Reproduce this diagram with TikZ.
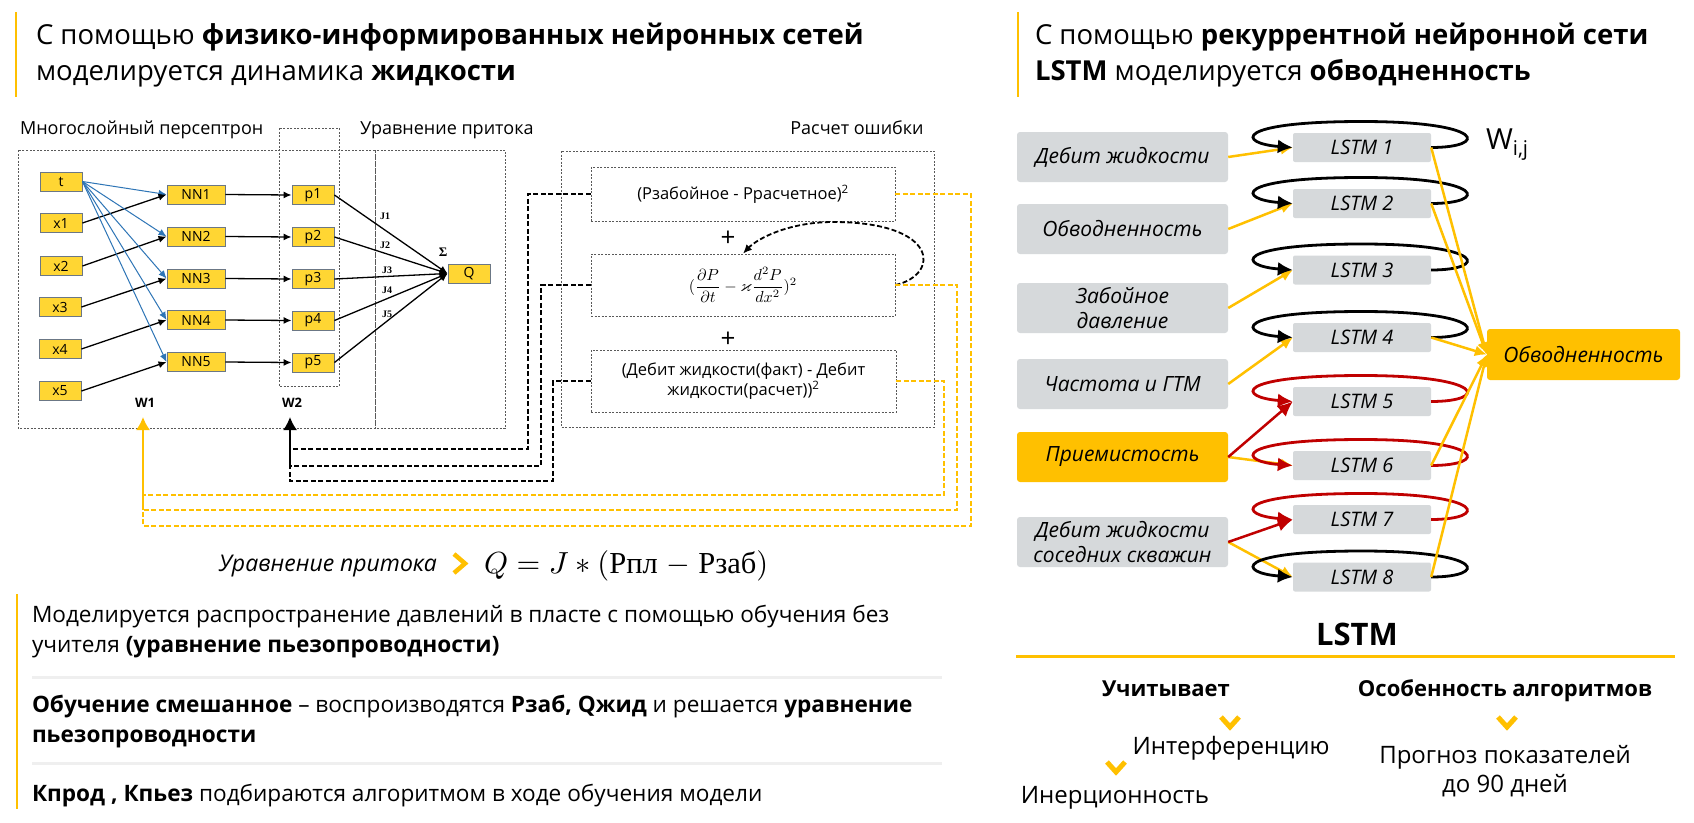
\documentclass[tikz,border=0pt]{standalone}
\usepackage{graphicx}
\usepackage{amsmath,amssymb}
\usepackage[no-math]{fontspec}
\setmainfont{Open Sans}
\newfontfamily\myserif{Liberation Serif}
\usetikzlibrary{arrows.meta,calc}
\definecolor{ylw}{HTML}{FFC000}
\definecolor{pyel}{HTML}{FFD633}
\definecolor{pbord}{HTML}{6B7785}
\definecolor{lgray}{HTML}{D6D9DB}
\definecolor{dred}{HTML}{C00000}
\definecolor{bln}{HTML}{2E75B6}
\definecolor{sepg}{HTML}{EFEFEF}
\newcommand\fsz[2]{\fontsize{#1}{#2}\selectfont}
\newcommand\lstmloop[2]{%
 \draw[line width=2.8pt, color=#2, -{Latex[length=15pt,width=14pt]}] (#1.east) .. controls +(57,0) and +(125,0) .. ($(#1.center)+(0,-26)$) .. controls +(-130,0) and +(-55,-4) .. (#1.west);}
\begin{document}
\begin{tikzpicture}[x=1pt,y=-1pt,
 txt/.style={inner sep=0pt, outer sep=0pt},
 pbox/.style={draw=pbord, line width=0.9pt, fill=pyel, minimum width=42pt, minimum height=19pt, inner sep=0pt, font=\fsz{14}{16}},
 nnbox/.style={pbox, minimum width=58pt},
 dbx/.style={draw=black!65, line width=0.8pt, dash pattern=on 2pt off 1.5pt},
 bar/.style={ylw, line width=2.5pt},
 blkar/.style={line width=1.3pt, -{Latex[length=8pt,width=7pt]}},
 bluar/.style={bln, line width=1pt, -{Latex[length=8pt,width=7pt]}},
 fbk/.style={line width=1.8pt, dash pattern=on 5pt off 2.5pt},
 fby/.style={ylw, line width=1.8pt, dash pattern=on 5pt off 2.5pt},
 gbox/.style={fill=lgray, rounded corners=3pt, minimum width=211pt, minimum height=50pt, inner sep=0pt, align=center, font=\itshape\fsz{21}{25}},
 lbox/.style={fill=lgray, rounded corners=2pt, minimum width=138pt, minimum height=29pt, inner sep=0pt, font=\itshape\fsz{20}{24}},
 yin/.style={ylw, line width=2.5pt, -{Latex[length=12pt,width=11pt]}},
 rin/.style={dred, line width=2.5pt, -{Latex[length=15pt,width=14pt]}},
 chev/.style={ylw, line width=5pt}
]
\useasboundingbox (0,0) rectangle (1694,822);
\fill[white] (0,0) rectangle (1694,822);

% ---------- titles
\draw[bar] (16,12) -- (16,97);
\node[txt, anchor=base west, font=\fsz{27.5}{34}] (tl1) at (36,44) {С помощью \textbf{физико-информированных нейронных сетей}};
\node[txt, anchor=base west, font=\fsz{27.5}{34}] (tl2) at (36,80) {моделируется динамика \textbf{жидкости}};
\draw[bar] (1018,12) -- (1018,97);
\node[txt, anchor=base west, font=\fsz{27.5}{34}] (tr1) at (1035,44) {С помощью \textbf{рекуррентной нейронной сети}};
\node[txt, anchor=base west, font=\fsz{27.5}{34}] (tr2) at (1035,80) {\textbf{LSTM} моделируется \textbf{обводненность}};

% ---------- section labels
\node[txt, anchor=base west, font=\fsz{18}{20}] (lab1) at (20,134) {Многослойный персептрон};
\node[txt, anchor=base west, font=\fsz{18}{20}] (lab2) at (360,134) {Уравнение притока};
\node[txt, anchor=base, font=\fsz{18}{20}] (lab3) at (857,134) {Расчет ошибки};

% ---------- dashed frames
\draw[dbx] (18,150) rectangle (375,428);
\draw[dbx] (375,150) rectangle (505,428);
\draw[dbx] (279,128) rectangle (339,386);
\draw[dbx] (561,151) rectangle (934,427);

% ---------- perceptron nodes
\node[pbox] (t) at (61,181.5) {t};
\node[pbox] (x1) at (61,223) {x1};
\node[pbox] (x2) at (61,266) {x2};
\node[pbox] (x3) at (60,307) {x3};
\node[pbox] (x4) at (60,349) {x4};
\node[pbox] (x5) at (60,391) {x5};
\node[nnbox] (NN1) at (196,194.5) {NN1};
\node[nnbox] (NN2) at (196,236.5) {NN2};
\node[nnbox] (NN3) at (196,278.5) {NN3};
\node[nnbox] (NN4) at (196,320) {NN4};
\node[nnbox] (NN5) at (196,362) {NN5};
\node[pbox] (p1) at (313,195) {p1};
\node[pbox] (p2) at (313,237) {p2};
\node[pbox] (p3) at (313,279) {p3};
\node[pbox] (p4) at (313,320.5) {p4};
\node[pbox] (p5) at (313,362.5) {p5};
\node[pbox] (Q) at (469,273.5) {Q};

\foreach \i in {1,...,5}{
  \draw[bluar] (t.east) -- (NN\i.west);
  \draw[blkar] (x\i.east) -- (NN\i.west);
  \draw[blkar] (NN\i.east) -- (p\i.west);
  \draw[blkar] (p\i.east) -- (Q.west);
}
\foreach \i/\xx/\yy in {1/385/216,2/385/245,3/387/270,4/387/290,5/387/314}{
  \node[txt, font=\myserif\bfseries\fsz{10}{12}] (J\i) at (\xx,\yy) {J\i};
}
\node[txt, font=\myserif\bfseries\fsz{13}{14}] (sig) at (443,252) {Σ};
\node[txt, font=\bfseries\fsz{13}{15}] (W1) at (145,403) {W1};
\node[txt, font=\bfseries\fsz{13}{15}] (W2) at (292,403) {W2};
\coordinate (w1in) at (143,417);
\coordinate (w2in) at (290,417);

% ---------- error boxes
\node[dbx, minimum width=304pt, minimum height=54pt, inner sep=0pt, font=\fsz{16.5}{20}] (e1) at (743,194) {(Рзабойное - Ррасчетное)\textsuperscript{2}};
\node[dbx, minimum width=304pt, minimum height=62pt, inner sep=0pt, font=\fsz{10}{12}] (e2) at (743,285) {\scalebox{1.6}{$(\dfrac{\partial P}{\partial t} - \varkappa\dfrac{d^2P}{dx^2})^2$}};
\node[dbx, minimum width=305pt, minimum height=62pt, inner sep=0pt, align=center, font=\fsz{16.5}{20}] (e3) at (743.5,381) {(Дебит жидкости(факт) - Дебит\\жидкости(расчет))\textsuperscript{2}};
\node[txt, font=\fsz{26}{28}] (plus1) at (728,239) {+};
\node[txt, font=\fsz{26}{28}] (plus2) at (728,340) {+};
\draw[fbk, -{Latex[length=9pt,width=8pt]}] (e2.east) .. controls (940,275) and (940,222) .. (833,222) .. controls (790,222) and (758,238) .. (e2.north);

% ---------- feedback lines
\draw[fbk] (e1.west) -| (528,449) -- (290,449);
\draw[fbk] (e2.west) -| (541,466) -- (290,466);
\draw[fbk] (e3.west) -| (553,481) -- (290,481) -- (290,466);
\draw[line width=1.8pt, -{Latex[length=13pt,width=14pt]}] (290,466) -- (w2in);
\draw[fby] (e1.east) -| (971,526) -- (143,526) -- (143,510);
\draw[fby] (e2.east) -| (957,510) -- (143,510);
\draw[fby] (e3.east) -| (944,495) -- (143,495);
\draw[ylw, line width=1.8pt, -{Latex[length=13pt,width=14pt]}] (143,510) -- (w1in);

% ---------- inflow equation
\node[txt, anchor=base east, font=\itshape\fsz{23}{26}] (eqlab) at (437,571) {Уравнение притока};
\draw[ylw, line width=4.5pt] (454,554) -- (465,563.5) -- (454,573);
\node[txt, anchor=base west, font=\fsz{10}{12}] (eq) at (484,573) {\scalebox{3.05}{$Q = J * ($\myserif Рпл\hspace{3pt}$-$ Рзаб$)$}};

% ---------- bottom-left text
\draw[bar] (17,594) -- (17,809);
\node[txt, anchor=base west, font=\fsz{22.6}{28}] (b1) at (32,622) {Моделируется распространение давлений в пласте с помощью обучения без};
\node[txt, anchor=base west, font=\fsz{22.6}{28}] (b2) at (32,652) {учителя \textbf{(уравнение пьезопроводности)}};
\draw[sepg, line width=3pt] (32,677) -- (942,677);
\node[txt, anchor=base west, font=\fsz{22.6}{28}] (b3) at (32,712) {\textbf{Обучение смешанное} – воспроизводятся \textbf{Рзаб, Qжид} и решается \textbf{уравнение}};
\node[txt, anchor=base west, font=\fsz{22.6}{28}] (b4) at (32,742) {\textbf{пьезопроводности}};
\draw[sepg, line width=3pt] (32,763) -- (942,763);
\node[txt, anchor=base west, font=\fsz{22.6}{28}] (b5) at (32,801) {\textbf{Кпрод , Кпьез} подбираются алгоритмом в ходе обучения модели};

% ---------- LSTM side
\node[gbox] (i1) at (1122.5,157) {Дебит жидкости};
\node[gbox] (i2) at (1122.5,229) {Обводненность};
\node[gbox] (i3) at (1122.5,308) {Забойное\\давление};
\node[gbox] (i4) at (1122.5,384) {Частота и ГТМ};
\node[gbox, fill=ylw] (i5) at (1122.5,457) {Приемистость};
\node[gbox] (i6) at (1122.5,542) {Дебит жидкости\\соседних скважин};

\node[lbox] (L1) at (1362,147.5) {LSTM 1};
\node[lbox] (L2) at (1362,203.5) {LSTM 2};
\node[lbox] (L3) at (1362,270) {LSTM 3};
\node[lbox] (L4) at (1362,337.5) {LSTM 4};
\node[lbox] (L5) at (1362,401.5) {LSTM 5};
\node[lbox] (L6) at (1362,465.5) {LSTM 6};
\node[lbox] (L7) at (1362,519.5) {LSTM 7};
\node[lbox] (L8) at (1362,577) {LSTM 8};
\node[fill=ylw, rounded corners=3pt, minimum width=193pt, minimum height=51pt, inner sep=0pt, font=\itshape\fsz{21}{25}] (out) at (1583.5,354.5) {Обводненность};

\draw[yin] (i1.east) -- (L1.west);
\draw[yin] (i2.east) -- (L2.west);
\draw[yin] (i3.east) -- (L3.west);
\draw[yin] (i4.east) -- (L4.west);
\draw[yin] (i5.east) -- (L6.west);
\draw[yin] (i6.east) -- (L8.west);
\draw[rin] (i5.east) -- (L5.west);
\draw[rin] (i6.east) -- (L7.west);

\lstmloop{L1}{black}
\lstmloop{L2}{black}
\lstmloop{L3}{black}
\lstmloop{L4}{black}
\lstmloop{L5}{dred}
\lstmloop{L6}{dred}
\lstmloop{L7}{dred}
\lstmloop{L8}{black}

\foreach \k in {1,2,4,6,8}{
  \draw[yin] (L\k.east) -- (out.west);
}
\node[txt, anchor=base west, font=\fsz{29}{32}] (wij) at (1486,149) {W\textsubscript{i,j}};

% ---------- bottom-right
\node[txt, anchor=base, font=\bfseries\fsz{31}{34}] (lstm) at (1357,645) {LSTM};
\draw[ylw, line width=3pt] (1016,656) -- (1675,656);
\node[txt, anchor=base, font=\bfseries\fsz{22}{26}] (uch) at (1166,696) {Учитывает};
\node[txt, anchor=base, font=\bfseries\fsz{22}{26}] (osob) at (1505,696) {Особенность алгоритмов};
\draw[chev] (1221,717) -- (1230,727) -- (1239,717);
\draw[chev] (1107,762) -- (1116,772) -- (1125,762);
\draw[chev] (1498,717) -- (1507,727) -- (1516,717);
\node[txt, anchor=base, font=\fsz{24}{28}] (inter) at (1231,754) {Интерференцию};
\node[txt, anchor=base, font=\fsz{24}{28}] (iner) at (1115,803) {Инерционность};
\node[txt, anchor=base, font=\fsz{24}{28}] (prog1) at (1505,763) {Прогноз показателей};
\node[txt, anchor=base, font=\fsz{24}{28}] (prog2) at (1505,792) {до 90 дней};
\end{tikzpicture}
\end{document}
